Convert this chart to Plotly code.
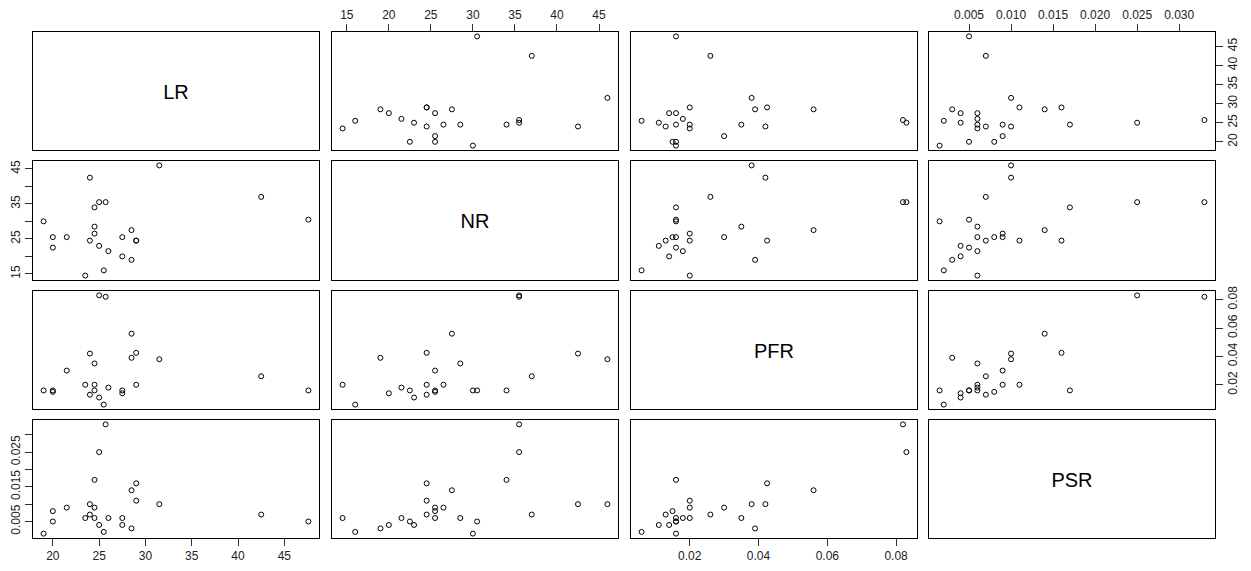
import plotly.graph_objects as go

LR = [19, 20, 20, 21.5, 23.5, 24, 24, 24.5, 24.5, 24.5, 25, 25, 25.5, 25.7,
      26, 27.5, 27.5, 28.5, 28.5, 29, 29, 31.5, 42.5, 47.6]
NR = [30, 22.5, 25.5, 25.5, 14.5, 42.5, 24.5, 34, 28.5, 26.5, 35.5, 23, 16, 35.5,
      21.5, 25.5, 20, 27.5, 19, 24.5, 24.5, 46, 37, 30.5]
PFR = [0.016, 0.016, 0.015, 0.030, 0.020, 0.042, 0.013, 0.016, 0.035, 0.020, 0.083,
       0.011, 0.006, 0.082, 0.018, 0.016, 0.014, 0.056, 0.039, 0.0425, 0.020, 0.038,
       0.026, 0.016]
PSR = [0.0015, 0.005, 0.008, 0.009, 0.006, 0.010, 0.007, 0.017, 0.006, 0.009, 0.025,
       0.004, 0.002, 0.033, 0.006, 0.006, 0.004, 0.014, 0.003, 0.016, 0.011, 0.010,
       0.007, 0.005]

VAR_NAMES = ["LR", "NR", "PFR", "PSR"]

LR_TICKS = [20, 25, 30, 35, 40, 45]
LR_LABELS = ["20", "25", "30", "35", "40", "45"]
NR_TICKS = [15, 20, 25, 30, 35, 40, 45]
NR_LABELS_X = ["15", "20", "25", "30", "35", "40", "45"]
NR_LABELS_Y = ["15", "", "25", "", "35", "", "45"]
PFR_TICKS = [0.02, 0.04, 0.06, 0.08]
PFR_LABELS = ["0.02", "0.04", "0.06", "0.08"]
PSR_TICKS = [0.005, 0.010, 0.015, 0.020, 0.025, 0.030]
PSR_LABELS_X = ["0.005", "0.010", "0.015", "0.020", "0.025", "0.030"]
PSR_LABELS_Y = ["0.005", "", "0.015", "", "0.025", ""]

data = [LR, NR, PFR, PSR]
ticks_x = [(LR_TICKS, LR_LABELS), (NR_TICKS, NR_LABELS_X), (PFR_TICKS, PFR_LABELS), (PSR_TICKS, PSR_LABELS_X)]
ticks_y = [(LR_TICKS, LR_LABELS), (NR_TICKS, NR_LABELS_Y), (PFR_TICKS, PFR_LABELS), (PSR_TICKS, PSR_LABELS_Y)]

W, H = 1251, 571
col_px = [(33, 319), (332, 618), (631, 917), (929, 1215)]
row_px = [(32, 150), (161, 280), (291, 409), (420, 538)]

FONT = "Liberation Sans, Arial, sans-serif"


def rng(v):
    lo, hi = min(v), max(v)
    p = 0.04 * (hi - lo)
    return [lo - p, hi + p]


fig = go.Figure()
layout = {}

for i in range(4):
    for j in range(4):
        n = i * 4 + j + 1
        xn = "x" if n == 1 else f"x{n}"
        yn = "y" if n == 1 else f"y{n}"
        xkey = "xaxis" if n == 1 else f"xaxis{n}"
        ykey = "yaxis" if n == 1 else f"yaxis{n}"
        xd = [col_px[j][0] / W, col_px[j][1] / W]
        yd = [(H - row_px[i][1]) / H, (H - row_px[i][0]) / H]

        common = dict(showgrid=False, zeroline=False, automargin=False,
                      showline=True, mirror=True, linecolor="black", linewidth=1,
                      fixedrange=True, tickfont=dict(family=FONT, size=12, color="#222"))
        xa = dict(domain=xd, anchor=yn, **common)
        ya = dict(domain=yd, anchor=xn, **common)

        if i == j:
            xa.update(range=[0, 1], showticklabels=False, ticks="")
            ya.update(range=[0, 1], showticklabels=False, ticks="")
            fig.add_trace(go.Scatter(
                x=[0.5], y=[0.475], mode="text", text=[VAR_NAMES[i]], xaxis=xn, yaxis=yn,
                textposition="middle center",
                textfont=dict(family=FONT, size=20, color="black"),
                hoverinfo="skip", showlegend=False))
        else:
            xa["range"] = rng(data[j])
            ya["range"] = rng(data[i])
            fig.add_trace(go.Scatter(
                x=data[j], y=data[i], mode="markers", xaxis=xn, yaxis=yn,
                marker=dict(symbol="circle-open", size=5, color="black",
                            line=dict(width=1, color="black")),
                hoverinfo="skip", showlegend=False))

        # x axis ticks
        if (i == 0 and j in (1, 3)) or (i == 3 and j in (0, 2)):
            tv, tt = ticks_x[j]
            xa.update(side="top" if i == 0 else "bottom", ticks="outside", ticklen=7,
                      tickcolor="#333", tickwidth=1, tickvals=tv, ticktext=tt,
                      showticklabels=True, tickangle=0)
        elif i != j:
            xa.update(showticklabels=False, ticks="")
        # y axis ticks
        if (j == 0 and i in (1, 3)) or (j == 3 and i in (0, 2)):
            tv, tt = ticks_y[i]
            ya.update(side="left" if j == 0 else "right", ticks="outside", ticklen=7,
                      tickcolor="#333", tickwidth=1, tickvals=tv, ticktext=tt,
                      showticklabels=True, tickangle=-90)
        elif i != j:
            ya.update(showticklabels=False, ticks="")

        layout[xkey] = xa
        layout[ykey] = ya

fig.update_layout(**layout)
fig.update_layout(width=W, height=H, margin=dict(l=0, r=0, t=0, b=0, autoexpand=False),
                  paper_bgcolor="white", plot_bgcolor="white", showlegend=False)

fig.write_html("out.html", config={"displayModeBar": False})
